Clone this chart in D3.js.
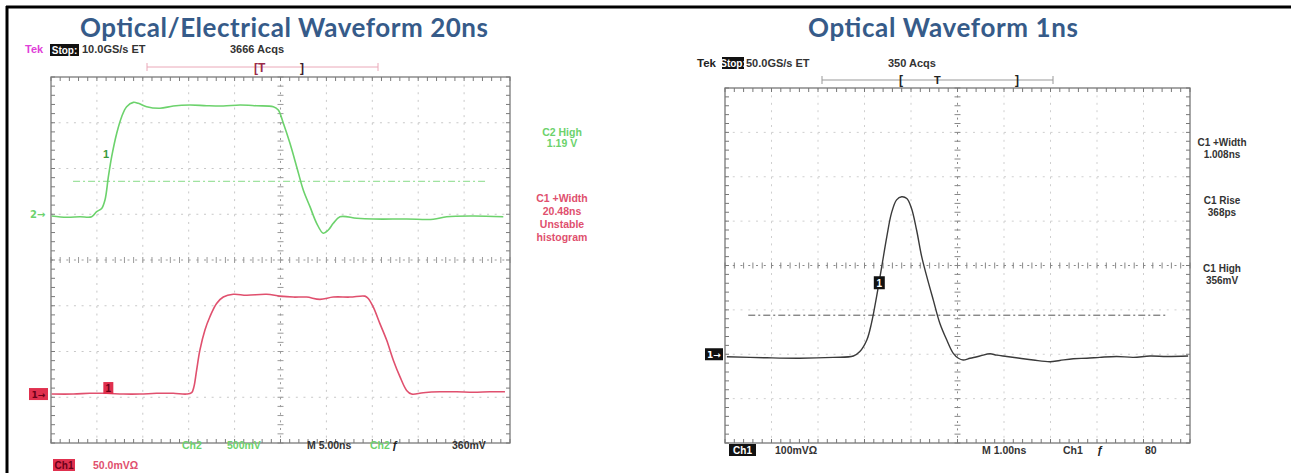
<!DOCTYPE html>
<html><head><meta charset="utf-8">
<script src="https://cdn.jsdelivr.net/npm/d3@7/dist/d3.min.js"></script>
<style>html,body{margin:0;padding:0;background:#fff;overflow:hidden}text{font-family:"Liberation Sans",Arial,sans-serif;font-weight:bold}</style>
</head><body><svg id="c" width="1291" height="473"></svg>
<script>
// ---------- data ----------
const titles = ["Optical/Electrical Waveform 20ns", "Optical Waveform 1ns"];

// Left: Ch2 (green, electrical), time in ns (5 ns/div), value in mV (500 mV/div)
const ch2Time = [0.07,1.71,3.16,4.43,4.97,5.52,5.88,6.25,6.61,7.16,7.70,8.24,8.97,9.51,10.42,11.87,13.32,15.14,16.96,18.77,20.59,22.41,24.22,24.76,25.31,26.03,26.76,27.48,28.21,28.94,29.66,30.21,30.75,31.48,33.30,35.11,38.74,41.65,43.10,46.00,49.27];
const ch2mV   = [-19,-33,-27,-27,28,64,156,410,629,885,1066,1175,1223,1212,1175,1158,1183,1194,1186,1183,1194,1186,1175,1139,994,775,520,265,83,-99,-208,-172,-99,-27,-44,-52,-52,-55,-27,-19,-27];

// Left: Ch1 (red, optical), value in mV (50 mV/div)
const ch1Time = [0.07,2.43,4.24,6.06,7.87,9.69,11.50,13.32,14.77,15.32,15.57,15.86,16.22,16.77,17.31,18.04,18.77,19.86,21.31,23.49,24.94,26.39,27.84,29.30,30.75,32.56,34.20,34.56,35.11,35.83,36.56,37.29,38.01,38.74,39.28,40.55,42.37,44.18,46.00,47.82,49.45];
const ch1mV   = [0,0,0.8,0.8,0,0,0.8,0.8,0,1.5,8,26,48,70,84.5,99,106,109,108,109,107,106,106,103.5,106,106,107,104.5,95,77,59,37,19,4,0,1.5,2.5,2.5,2,2.5,2.5];

// Right: Ch1 optical pulse, time in ns (1 ns/div), value in mV (100 mV/div)
const rTime = [0.04,0.90,1.61,2.33,2.76,2.90,3.05,3.15,3.26,3.37,3.48,3.58,3.69,3.80,3.91,4.01,4.12,4.23,4.34,4.48,4.62,4.77,4.91,5.02,5.12,5.27,5.48,5.70,5.84,6.06,6.34,6.63,6.99,7.20,7.49,7.78,8.06,8.42,8.78,9.14,9.50,9.96];
const rmV   = [-5.5,-8,-9,-7,-4,6,32,70,130,197,265,318,348,355,351,329,280,220,175,122,70,32,2,-9,-13,-9,-4,1,-2,-5,-9,-13,-17,-14,-10,-9,-7,-5,-7,-4,-5,-4];

const ch2Trigger = 360;   // mV
const rTrigger = 88;      // mV

const leftHeader = ["Tek", "Stop:", "10.0GS/s ET", "3666 Acqs"];
const rightHeader = ["Tek", "Stop:", "50.0GS/s ET", "350 Acqs"];
const leftGreenLabels = ["C2 High", "1.19 V"];
const leftRedLabels = ["C1 +Width", "20.48ns", "Unstable", "histogram"];
const rightLabels = [["C1 +Width","1.008ns"],["C1 Rise","368ps"],["C1 High","356mV"]];
const leftFooter = ["Ch2", "500mV", "M 5.00ns", "Ch2", "ƒ", "360mV"];
const leftFooter2 = ["Ch1", "50.0mVΩ"];
const rightFooter = ["Ch1", "100mVΩ", "M 1.00ns", "Ch1", "ƒ", "80"];

// ---------- drawing ----------
const svg = d3.select("#c");
const GREEN = "#6cd26c", RED = "#e0506e", TITLE = "#365b89";

// outer border
svg.append("line").attr("x1",6).attr("x2",1291).attr("y1",7).attr("y2",7).attr("stroke","#000").attr("stroke-width",3);
svg.append("line").attr("x1",7).attr("x2",7).attr("y1",6).attr("y2",473).attr("stroke","#000").attr("stroke-width",3);

function drawGrid(gx, gy, frameColor, gridColor, centerColor){
  const g = svg.append("g");
  const [xa, xb] = gx.range(), [yb, ya] = gy.range();
  const minorX = d3.range(0, 10.001, 0.2), minorY = d3.range(0, 8.001, 0.2);
  const pxDivX = (xb - xa) / 10, pxDivY = (yb - ya) / 8;
  const dashX = `2,${(pxDivX/6 - 2).toFixed(2)}`, dashY = `2,${(pxDivY/6 - 2).toFixed(2)}`;
  g.selectAll(null).data(d3.range(1,10).filter(d=>d!==5)).join("line")
    .attr("x1",d=>gx(d)).attr("x2",d=>gx(d)).attr("y1",ya).attr("y2",yb)
    .attr("stroke",gridColor).attr("stroke-dasharray",dashY);
  g.selectAll(null).data(d3.range(1,8).filter(d=>d!==4)).join("line")
    .attr("y1",d=>gy(d)).attr("y2",d=>gy(d)).attr("x1",xa).attr("x2",xb)
    .attr("stroke",gridColor).attr("stroke-dasharray",dashX);
  g.append("line").attr("x1",gx(5)).attr("x2",gx(5)).attr("y1",ya).attr("y2",yb)
    .attr("stroke",centerColor).attr("stroke-dasharray",dashY);
  g.append("line").attr("y1",gy(4)).attr("y2",gy(4)).attr("x1",xa).attr("x2",xb)
    .attr("stroke",centerColor).attr("stroke-dasharray",dashX);
  g.selectAll(null).data(minorY).join("line")
    .attr("x1",gx(5)-3).attr("x2",gx(5)+3).attr("y1",d=>gy(d)).attr("y2",d=>gy(d)).attr("stroke",centerColor);
  g.selectAll(null).data(minorX).join("line")
    .attr("y1",gy(4)-3).attr("y2",gy(4)+3).attr("x1",d=>gx(d)).attr("x2",d=>gx(d)).attr("stroke",centerColor);
  g.selectAll(null).data(minorX).join("line")
    .attr("x1",d=>gx(d)).attr("x2",d=>gx(d)).attr("y1",ya).attr("y2",ya+4).attr("stroke",frameColor);
  g.selectAll(null).data(minorX).join("line")
    .attr("x1",d=>gx(d)).attr("x2",d=>gx(d)).attr("y1",yb).attr("y2",yb-4).attr("stroke",frameColor);
  g.selectAll(null).data(minorY).join("line")
    .attr("y1",d=>gy(d)).attr("y2",d=>gy(d)).attr("x1",xa).attr("x2",xa+4).attr("stroke",frameColor);
  g.selectAll(null).data(minorY).join("line")
    .attr("y1",d=>gy(d)).attr("y2",d=>gy(d)).attr("x1",xb).attr("x2",xb-4).attr("stroke",frameColor);
  g.append("rect").attr("x",xa).attr("y",ya).attr("width",xb-xa).attr("height",yb-ya)
    .attr("fill","none").attr("stroke",frameColor).attr("stroke-width",1.3);
}

function txt(x, y, s, opts = {}){
  return svg.append("text").attr("x",x).attr("y",y).text(s)
    .attr("font-size",opts.size || 11).attr("fill",opts.fill || "#222")
    .attr("text-anchor",opts.anchor || "start");
}
function boxTxt(x, y, w, h, s, bg, fg){
  svg.append("rect").attr("x",x).attr("y",y).attr("width",w).attr("height",h).attr("fill",bg);
  return txt(x + w/2, y + h - 2.5, s, {size:10, fill:fg, anchor:"middle"});
}

// ===== Left panel =====
const Lgx = d3.scaleLinear().domain([0,10]).range([51,510]);
const Lgy = d3.scaleLinear().domain([0,8]).range([443,77]);
const Lx = d3.scaleLinear().domain([0,50]).range([51,510]);
const Ly2 = d3.scaleLinear().domain([-2500,1500]).range([443,77]);
const Ly1 = d3.scaleLinear().domain([-53.5,346.5]).range([443,77]);
drawGrid(Lgx, Lgy, "#7a7a7a", "#c8c8c8", "#9a9a9a");

svg.append("line").attr("x1",Lx(2.4)).attr("x2",Lx(47.5)).attr("y1",Ly2(ch2Trigger)).attr("y2",Ly2(ch2Trigger))
  .attr("stroke",GREEN).attr("stroke-width",1).attr("stroke-dasharray","7,3,2,3").attr("opacity",0.8);

const lineL2 = d3.line().x((d,i)=>Lx(ch2Time[i])).y(d=>Ly2(d)).curve(d3.curveCatmullRom.alpha(0.5));
const lineL1 = d3.line().x((d,i)=>Lx(ch1Time[i])).y(d=>Ly1(d)).curve(d3.curveCatmullRom.alpha(0.5));
svg.append("path").attr("d",lineL2(ch2mV)).attr("fill","none").attr("stroke",GREEN).attr("stroke-width",1.6);
svg.append("path").attr("d",lineL1(ch1mV)).attr("fill","none").attr("stroke",RED).attr("stroke-width",1.6);

txt(30, Ly2(0)+4, "2→", {size:10, fill:GREEN}).style("font-family","DejaVu Sans");
boxTxt(29, Ly1(0)-6, 19, 12, "1→", "#e0304e", "#6a0018").style("font-family","DejaVu Sans").attr("font-size",9);
boxTxt(Lx(5.7), Ly1(0)-12, 10, 12, "1", "#e0304e", "#6a0018");
txt(Lx(6.0), Ly2(620), "1", {size:11, fill:"#3a9a3a", anchor:"middle"});

txt(284, 37, titles[0], {size:26, fill:TITLE, anchor:"middle"}).style("font-family","Lato, 'Open Sans', sans-serif").attr("textLength",408);

txt(25, 53, leftHeader[0], {size:11, fill:"#e040d8"});
boxTxt(50, 44, 29, 12, leftHeader[1], "#111", "#fff");
txt(82, 53, leftHeader[2], {size:11, fill:"#333"});
txt(230, 53, leftHeader[3], {size:11, fill:"#333"});
svg.append("line").attr("x1",147).attr("x2",378).attr("y1",67).attr("y2",67).attr("stroke","#eaa8b8");
svg.append("line").attr("x1",147).attr("x2",147).attr("y1",63).attr("y2",71).attr("stroke","#eaa8b8");
svg.append("line").attr("x1",378).attr("x2",378).attr("y1",63).attr("y2",71).attr("stroke","#eaa8b8");
txt(254, 72, "[T", {size:12, fill:"#9a2a48"});
txt(300, 72, "]", {size:12, fill:"#3a2030"});

leftGreenLabels.forEach((s,i)=>txt(562, 136 + i*11, s, {size:10.5, fill:GREEN, anchor:"middle"}));
leftRedLabels.forEach((s,i)=>txt(562, 202 + i*13, s, {size:10.5, fill:RED, anchor:"middle"}));

txt(182, 449, leftFooter[0], {size:10.5, fill:GREEN});
txt(227, 449, leftFooter[1], {size:10.5, fill:GREEN});
txt(307, 449, leftFooter[2], {size:10.5, fill:"#333"});
txt(370, 449, leftFooter[3], {size:10.5, fill:GREEN});
txt(392, 449, leftFooter[4], {size:11});
txt(452, 449, leftFooter[5], {size:10.5, fill:"#333"});
boxTxt(53, 459, 22, 12, leftFooter2[0], "#e0304e", "#6a0018");
txt(93, 469, leftFooter2[1], {size:10.5, fill:RED});

// ===== Right panel =====
const Rgx = d3.scaleLinear().domain([0,10]).range([725,1190]);
const Rgy = d3.scaleLinear().domain([0,8]).range([443,88]);
const Rx = d3.scaleLinear().domain([0,10]).range([725,1190]);
const Ry = d3.scaleLinear().domain([-200,600]).range([443,88]);
drawGrid(Rgx, Rgy, "#777", "#cfcfcf", "#888");

svg.append("line").attr("x1",Rx(0.5)).attr("x2",Rx(9.5)).attr("y1",Ry(rTrigger)).attr("y2",Ry(rTrigger))
  .attr("stroke","#555").attr("stroke-width",1).attr("stroke-dasharray","7,3,2,3");

const lineR = d3.line().x((d,i)=>Rx(rTime[i])).y(d=>Ry(d)).curve(d3.curveCatmullRom.alpha(0.5));
svg.append("path").attr("d",lineR(rmV)).attr("fill","none").attr("stroke","#3a3a3a").attr("stroke-width",1.4);

boxTxt(705, Ry(0)-6, 18, 12, "1→", "#111", "#fff").style("font-family","DejaVu Sans").attr("font-size",9);
boxTxt(Rx(3.2), Ry(160)-7, 11, 13, "1", "#111", "#fff");

txt(943, 37, titles[1], {size:26, fill:TITLE, anchor:"middle"}).style("font-family","Lato, 'Open Sans', sans-serif").attr("textLength",270);

txt(697, 67, rightHeader[0], {size:11.5, fill:"#222"});
boxTxt(722, 57, 22, 12, rightHeader[1], "#111", "#fff");
txt(746, 67, rightHeader[2], {size:11, fill:"#333"});
txt(888, 67, rightHeader[3], {size:11, fill:"#333"});
svg.append("line").attr("x1",822).attr("x2",1053).attr("y1",80).attr("y2",80).attr("stroke","#999");
svg.append("line").attr("x1",822).attr("x2",822).attr("y1",76).attr("y2",84).attr("stroke","#999");
svg.append("line").attr("x1",1053).attr("x2",1053).attr("y1",76).attr("y2",84).attr("stroke","#999");
txt(899, 84, "[", {size:12});
txt(934, 84, "T", {size:11});
txt(1015, 84, "]", {size:12});

rightLabels.forEach((pair,i)=>{
  const y0 = [146,204,272][i];
  txt(1222, y0, pair[0], {size:10, fill:"#333", anchor:"middle"});
  txt(1222, y0+12, pair[1], {size:10, fill:"#333", anchor:"middle"});
});

boxTxt(729, 444, 27, 12, rightFooter[0], "#111", "#fff");
txt(775, 454, rightFooter[1], {size:10.5, fill:"#333"});
txt(982, 454, rightFooter[2], {size:10.5, fill:"#333"});
txt(1063, 454, rightFooter[3], {size:10.5, fill:"#333"});
txt(1097, 454, rightFooter[4], {size:11});
svg.append("clipPath").attr("id","cut").append("rect").attr("x",1140).attr("y",440).attr("width",19).attr("height",20);
txt(1145, 454, rightFooter[5], {size:10.5, fill:"#333"}).attr("clip-path","url(#cut)");
</script>
</body></html>
